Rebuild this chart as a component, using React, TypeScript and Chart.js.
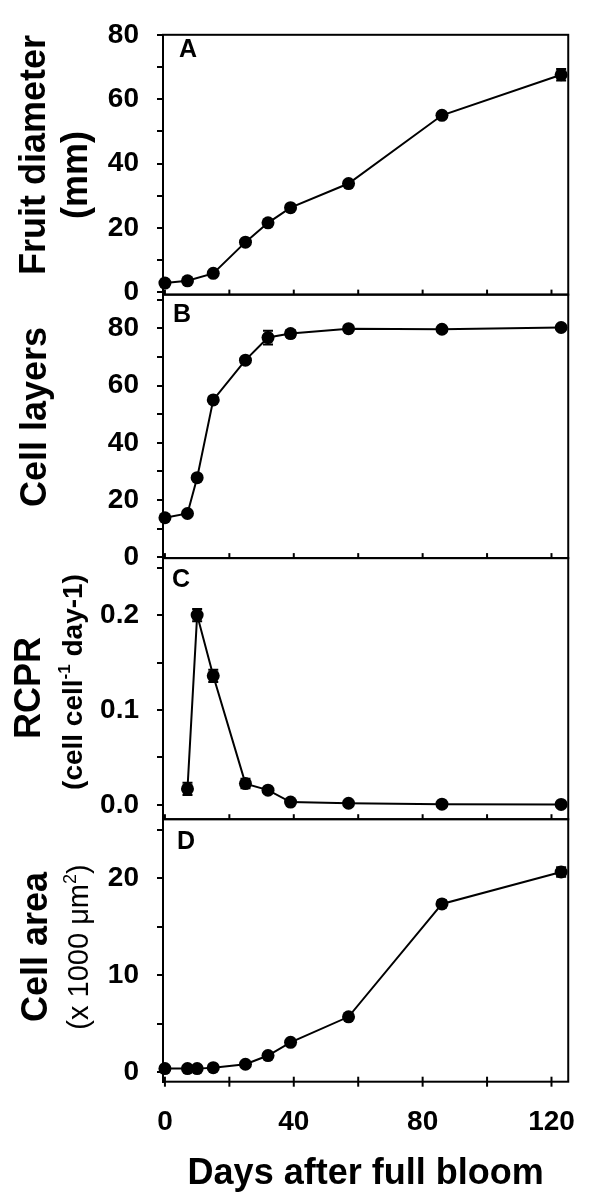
import React, { useEffect, useRef } from "react";
import { Chart, registerables } from "chart.js";

Chart.register(...registerables);

// ---- data ----
const daysAll = [0, 7, 10, 15, 25, 32, 39, 57, 86, 123];
const daysA = [0, 7, 15, 25, 32, 39, 57, 86, 123];
const daysC = [7, 10, 15, 25, 32, 39, 57, 86, 123];

const fruitDiameter = [2.9, 3.6, 5.9, 15.6, 21.6, 26.3, 33.8, 55.0, 67.6];
const fruitDiameterErr = [0, 0, 0, 0, 0, 0, 0, 0, 1.8];
const cellLayers = [13.8, 15.3, 27.8, 55.0, 68.9, 76.8, 78.2, 79.9, 79.7, 80.3];
const cellLayersErr = [0, 0, 0, 0, 0, 2.4, 1.2, 0, 0, 0];
const rcpr = [0.017, 0.2, 0.136, 0.0225, 0.0156, 0.003, 0.0018, 0.0008, 0.0006];
const rcprErr = [0.0065, 0.0065, 0.0065, 0.005, 0, 0, 0, 0, 0];
const cellArea = [0.35, 0.35, 0.35, 0.45, 0.8, 1.7, 3.06, 5.7, 17.35, 20.65];
const cellAreaErr = [0, 0, 0, 0, 0, 0, 0, 0, 0.35, 0.5];

const xMajorTicks = [0, 40, 80, 120];
const xMinorTicks = [20, 60, 100];
const yMajorA = [0, 20, 40, 60, 80];
const yMinorA = [10, 30, 50, 70];
const yMajorB = [0, 20, 40, 60, 80];
const yMinorB = [10, 30, 50, 70, 90];
const yMajorC = [0, 0.1, 0.2];
const yMinorC = [0.05, 0.15, 0.25];
const yMajorD = [0, 10, 20];
const yMinorD = [5, 15, 25];

const FONT = "'Liberation Sans', Arial, Helvetica, sans-serif";
const BLACK = "#000";

function yScale(
  min: number,
  max: number,
  major: number[],
  minor: number[],
  weight: number,
  stackWeight: number,
  fmt: (v: number) => string
) {
  return {
    type: "linear",
    position: "left",
    stack: "panels",
    stackWeight,
    weight,
    min,
    max,
    afterFit: (s: any) => {
      s.width = 163;
    },
    afterBuildTicks: (s: any) => {
      s.ticks = [...major, ...minor].sort((a, b) => a - b).map((v) => ({ value: v }));
    },
    ticks: {
      autoSkip: false,
      padding: 18,
      color: BLACK,
      font: { family: FONT, size: 28, weight: "bold" },
      callback: (v: any) => (major.some((m) => Math.abs(m - v) < 1e-9) ? fmt(Number(v)) : ""),
    },
    grid: { drawOnChartArea: false, drawTicks: true, tickLength: 6, color: BLACK, lineWidth: 2 },
    border: { display: true, color: BLACK, width: 2 },
  };
}

const errorSets = [fruitDiameterErr, cellLayersErr, rcprErr, cellAreaErr];
const panelIds = ["yA", "yB", "yC", "yD"];

function drawRotated(
  ctx: CanvasRenderingContext2D,
  baseX: number,
  centerY: number,
  parts: { text: string; font: string; sup?: boolean }[]
) {
  ctx.save();
  ctx.translate(baseX, centerY);
  ctx.rotate(-Math.PI / 2);
  ctx.textBaseline = "alphabetic";
  ctx.textAlign = "left";
  let total = 0;
  const widths = parts.map((p) => {
    ctx.font = p.font;
    const w = ctx.measureText(p.text).width;
    total += w;
    return w;
  });
  let x = -total / 2;
  parts.forEach((p, i) => {
    ctx.font = p.font;
    ctx.fillStyle = BLACK;
    ctx.fillText(p.text, x, p.sup ? -12 : 0);
    x += widths[i];
  });
  ctx.restore();
}

const decorPlugin = {
  id: "decor",
  afterDatasetsDraw(chart: any) {
    const ctx = chart.ctx as CanvasRenderingContext2D;
    const xs = chart.scales.x;
    ctx.save();
    ctx.strokeStyle = BLACK;
    ctx.lineWidth = 2;
    chart.data.datasets.forEach((ds: any, di: number) => {
      const ys = chart.scales[panelIds[di]];
      const errs = errorSets[di];
      ds.data.forEach((pt: any, i: number) => {
        const e = errs[i];
        if (!e) return;
        const px = xs.getPixelForValue(pt.x);
        const y1 = ys.getPixelForValue(pt.y - e);
        const y2 = ys.getPixelForValue(pt.y + e);
        ctx.beginPath();
        ctx.moveTo(px, y1);
        ctx.lineTo(px, y2);
        ctx.moveTo(px - 5, y1);
        ctx.lineTo(px + 5, y1);
        ctx.moveTo(px - 5, y2);
        ctx.lineTo(px + 5, y2);
        ctx.stroke();
      });
    });
    ctx.restore();
  },
  afterDraw(chart: any) {
    const ctx = chart.ctx as CanvasRenderingContext2D;
    const { left, right } = chart.chartArea;
    const xs = chart.scales.x;
    ctx.save();
    ctx.strokeStyle = BLACK;
    ctx.lineWidth = 2;
    panelIds.forEach((id, i) => {
      const s = chart.scales[id];
      ctx.strokeRect(left, s.top, right - left, s.bottom - s.top);
      [...xMajorTicks, ...xMinorTicks].forEach((v) => {
        const px = xs.getPixelForValue(v);
        ctx.beginPath();
        ctx.moveTo(px, s.bottom - 5);
        ctx.lineTo(px, s.bottom + (i === 3 ? 5 : 0));
        ctx.stroke();
      });
    });
    ctx.restore();

    const big = `bold 36px ${FONT}`;
    drawRotated(ctx, 45, 155, [{ text: "Fruit diameter", font: big }]);
    drawRotated(ctx, 87, 175, [{ text: "(mm)", font: big }]);
    drawRotated(ctx, 46, 417, [{ text: "Cell layers", font: big }]);
    drawRotated(ctx, 40, 688, [{ text: "RCPR", font: big }]);
    const mid = `bold 28px ${FONT}`;
    const midSup = `bold 17px ${FONT}`;
    drawRotated(ctx, 82, 682, [
      { text: "(cell cell", font: mid },
      { text: "-1", font: midSup, sup: true },
      { text: " day-1)", font: mid },
    ]);
    drawRotated(ctx, 46.5, 947, [{ text: "Cell area", font: big }]);
    const reg = `29px ${FONT}`;
    const regSup = `18px ${FONT}`;
    drawRotated(ctx, 88, 947, [
      { text: "(x 1000 \u03bcm", font: reg },
      { text: "2", font: regSup, sup: true },
      { text: ")", font: reg },
    ]);

    ctx.save();
    ctx.fillStyle = BLACK;
    ctx.font = `bold 25px ${FONT}`;
    ctx.textBaseline = "alphabetic";
    ctx.textAlign = "left";
    ctx.fillText("A", 179, 57);
    ctx.fillText("B", 173, 322);
    ctx.fillText("C", 172, 587);
    ctx.fillText("D", 177, 849);
    ctx.restore();
  },
};

function series(xs: number[], ys: number[], axis: string) {
  return {
    data: xs.map((x, i) => ({ x, y: ys[i] })),
    yAxisID: axis,
    xAxisID: "x",
    borderColor: BLACK,
    backgroundColor: BLACK,
    borderWidth: 2,
    pointRadius: 6.5,
    pointBorderWidth: 0,
    pointBackgroundColor: BLACK,
    pointBorderColor: BLACK,
    tension: 0,
    clip: false,
  };
}

export default function App() {
  const ref = useRef<HTMLCanvasElement | null>(null);
  useEffect(() => {
    if (!ref.current) return;
    const chart = new Chart(ref.current, {
      type: "line",
      data: {
        datasets: [
          series(daysA, fruitDiameter, "yA"),
          series(daysAll, cellLayers, "yB"),
          series(daysC, rcpr, "yC"),
          series(daysAll, cellArea, "yD"),
        ] as any,
      },
      options: {
        responsive: false,
        animation: false,
        devicePixelRatio: 1,
        layout: { padding: { left: 0, right: 28, top: 22, bottom: 0 } },
        plugins: { legend: { display: false }, tooltip: { enabled: false }, title: { display: false } },
        scales: {
          x: {
            type: "linear",
            position: "bottom",
            min: -0.6,
            max: 125.2,
            afterBuildTicks: (s: any) => {
              s.ticks = xMajorTicks.map((v) => ({ value: v }));
            },
            afterFit: (s: any) => {
              s.height = 118.3;
            },
            ticks: {
              autoSkip: false,
              maxRotation: 0,
              padding: 24,
              color: BLACK,
              font: { family: FONT, size: 28, weight: "bold" },
              callback: (v: any) => String(v),
            },
            grid: { display: false, drawTicks: false },
            border: { display: false },
            title: {
              display: true,
              text: "Days after full bloom",
              color: BLACK,
              font: { family: FONT, size: 36, weight: "bold" },
              padding: { top: 0, bottom: 4 },
            },
          },
          yA: yScale(-0.7, 80, yMajorA, yMinorA, 4, 263, (v) => String(v)),
          yB: yScale(-0.3, 91.8, yMajorB, yMinorB, 3, 266.7, (v) => String(v)),
          yC: yScale(-0.015, 0.26, yMajorC, yMinorC, 2, 264.3, (v) => v.toFixed(1)),
          yD: yScale(-1.0, 26.1, yMajorD, yMinorD, 1, 265.7, (v) => String(v)),
        } as any,
      },
      plugins: [decorPlugin],
    });
    return () => chart.destroy();
  }, []);
  return (
    <div style={{ position: "absolute", left: 0, top: 0, width: 600, height: 1200, background: "#fff" }}>
      <canvas ref={ref} width={600} height={1200} style={{ width: 600, height: 1200, display: "block" }} />
    </div>
  );
}
